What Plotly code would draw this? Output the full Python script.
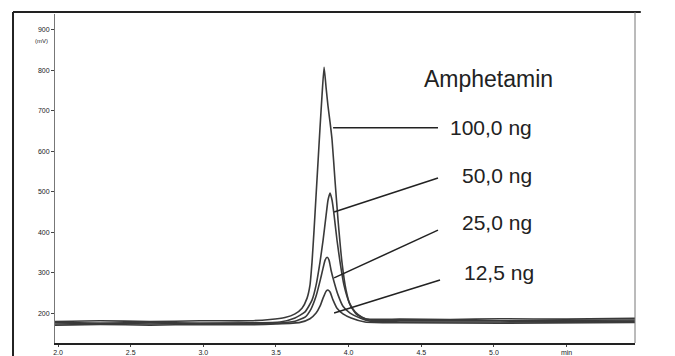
import plotly.graph_objects as go

# ---- data (time in min, signal in mV) ----
t_100 = [1.979, 2.289, 2.633, 2.977, 3.321, 3.459, 3.562, 3.631, 3.679, 3.714, 3.734, 3.748, 3.762,
         3.776, 3.790, 3.803, 3.817, 3.831, 3.845, 3.858, 3.872, 3.886, 3.906, 3.927, 3.954, 3.982,
         4.010, 4.051, 4.113, 4.354, 4.700, 5.042, 5.500, 5.971]
v_100 = [179, 181, 179, 181, 181, 184, 189, 198, 212, 237, 269, 326, 405,
         492, 578, 658, 739, 808, 757, 712, 672, 628, 529, 430, 326, 257,
         220, 198, 186, 185, 184, 186, 185, 187]

t_50 = [1.979, 2.289, 2.633, 2.977, 3.321, 3.528, 3.631, 3.700, 3.748, 3.776, 3.803, 3.824, 3.845,
        3.858, 3.872, 3.886, 3.900, 3.920, 3.941, 3.968, 4.003, 4.044, 4.092, 4.161, 4.354, 5.042, 5.971]
v_50 = [177, 175, 177, 175, 176, 178, 188, 203, 232, 269, 326, 380, 442,
        479, 497, 479, 442, 380, 326, 269, 227, 203, 190, 182, 181, 181, 183]

t_25 = [1.979, 2.289, 2.633, 2.977, 3.321, 3.500, 3.631, 3.700, 3.741, 3.776, 3.803, 3.824, 3.838,
        3.852, 3.865, 3.879, 3.900, 3.927, 3.961, 4.010, 4.079, 4.148, 4.354, 5.042, 5.971]
v_25 = [173, 175, 173, 175, 174, 175, 180, 190, 210, 242, 279, 311, 331,
        338, 331, 306, 277, 245, 217, 200, 188, 180, 178, 178, 180]

t_12 = [1.979, 2.289, 2.633, 2.977, 3.321, 3.500, 3.666, 3.734, 3.776, 3.803, 3.824, 3.845, 3.858,
        3.872, 3.893, 3.920, 3.961, 4.017, 4.113, 4.354, 5.042, 5.971]
v_12 = [170, 172, 170, 172, 171, 173, 177, 186, 200, 217, 237, 254, 257,
        252, 232, 212, 198, 188, 178, 176, 175, 177]

series_names = ["100,0 ng", "50,0 ng", "25,0 ng", "12,5 ng"]
series_t = [t_100, t_50, t_25, t_12]
series_v = [v_100, v_50, v_25, v_12]

# leader lines: peak point -> label
lead_x0 = [3.893, 3.900, 3.900, 3.900]
lead_y0 = [658, 450, 287, 200]
lead_x1 = [4.615, 4.615, 4.615, 4.629]
lead_y1 = [658, 534, 405, 282]
label_x = [4.684, 4.767, 4.767, 4.780]
label_y = [658, 539, 423, 301]

title_text = "Amphetamin"
y_ticks = [200, 300, 400, 500, 600, 700, 800, 900]
x_ticks = [2.0, 2.5, 3.0, 3.5, 4.0, 4.5, 5.0, 5.5]
x_ticktext = ["2.0", "2.5", "3.0", "3.5", "4.0", "4.5", "5.0", "min"]

fig = go.Figure()
for name, tt, vv in zip(series_names, series_t, series_v):
    fig.add_trace(go.Scatter(x=tt, y=vv, mode="lines", name=name,
                             line=dict(color="#3a3a3a", width=1.6, shape="spline", smoothing=0.5),
                             showlegend=False, hoverinfo="skip"))

for x0, y0, x1, y1 in zip(lead_x0, lead_y0, lead_x1, lead_y1):
    fig.add_shape(type="line", xref="x", yref="y", x0=x0, y0=y0, x1=x1, y1=y1,
                  line=dict(color="#222", width=1.5))

for name, lx, ly in zip(series_names, label_x, label_y):
    fig.add_annotation(x=lx, y=ly, xref="x", yref="y", text=name, showarrow=False,
                       xanchor="left", yanchor="middle",
                       font=dict(family="Liberation Sans, Arial", size=21, color="#222"))

fig.add_annotation(x=4.505, y=779, xref="x", yref="y", text=title_text, showarrow=False,
                   xanchor="left", yanchor="middle",
                   font=dict(family="Liberation Sans, Arial", size=23, color="#222"))

fig.add_annotation(x=-0.009, y=0.918, xref="paper", yref="paper", text="(mV)", showarrow=False,
                   xanchor="right", yanchor="middle",
                   font=dict(family="Liberation Sans, Arial", size=6, color="#222"))

# outer frame (scanned page border)
fig.add_shape(type="line", xref="paper", yref="paper", x0=-0.0724, y0=1.006, x1=-0.0724, y1=-0.05,
              line=dict(color="#222", width=2))
fig.add_shape(type="line", xref="paper", yref="paper", x0=-0.0724, y0=1.006, x1=1.01, y1=1.006,
              line=dict(color="#222", width=2))
fig.add_shape(type="line", xref="paper", yref="paper", x0=1.0, y0=1.006, x1=1.0, y1=0,
              line=dict(color="#777", width=1))

fig.update_layout(
    width=675, height=356,
    margin=dict(l=55, r=40, t=14, b=13, autoexpand=False),
    paper_bgcolor="white", plot_bgcolor="white",
    xaxis=dict(range=[1.979, 5.971], tickvals=x_ticks, ticktext=x_ticktext, automargin=False,
               showline=True, linecolor="#222", linewidth=2, ticks="outside", ticklen=2,
               tickcolor="#444", showgrid=False, zeroline=False,
               tickfont=dict(family="Liberation Sans, Arial", size=7, color="#222")),
    yaxis=dict(range=[126, 939.5], tickvals=y_ticks, automargin=False,
               showline=True, linecolor="#777", linewidth=1, ticks="outside", ticklen=3,
               tickcolor="#444", showgrid=False, zeroline=False,
               tickfont=dict(family="Liberation Sans, Arial", size=7, color="#222")),
)

fig.write_html("out.html")
